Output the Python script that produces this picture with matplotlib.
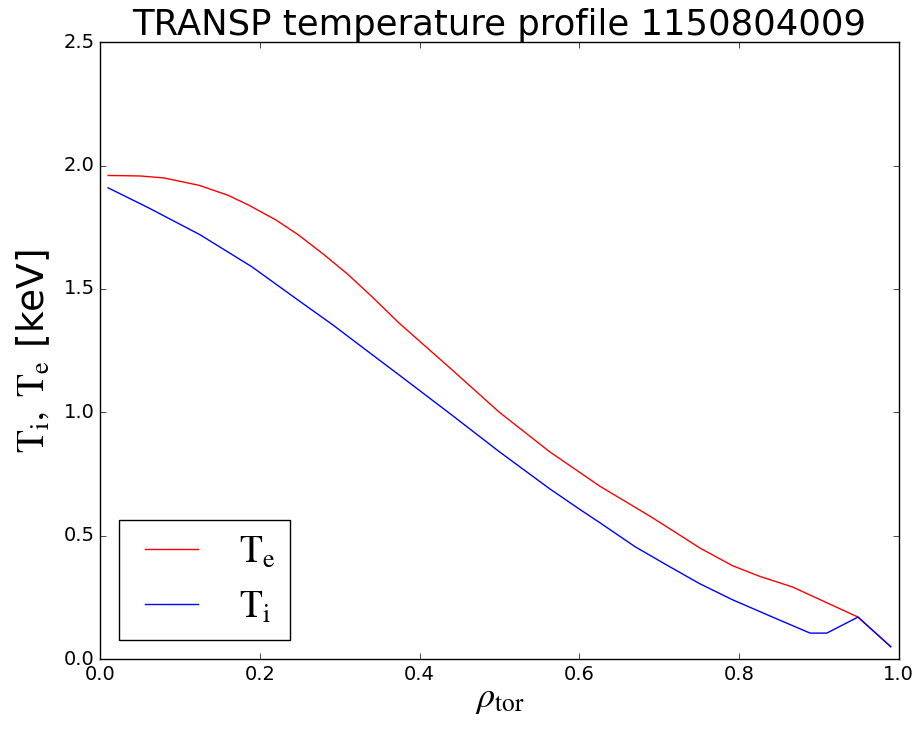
import matplotlib
matplotlib.use('Agg')
import matplotlib.pyplot as plt

# profiles
rho_e = [0.01, 0.05, 0.08, 0.124, 0.16, 0.186, 0.22, 0.248, 0.28, 0.31, 0.34, 0.375, 0.438,
         0.5, 0.563, 0.626, 0.688, 0.71, 0.751, 0.792, 0.826, 0.867, 0.949, 0.99]
te = [1.96, 1.958, 1.95, 1.92, 1.88, 1.84, 1.78, 1.72, 1.64, 1.56, 1.47, 1.36, 1.18,
      1.0, 0.84, 0.70, 0.58, 0.535, 0.45, 0.378, 0.335, 0.292, 0.17, 0.05]

rho_i = [0.01, 0.06, 0.125, 0.19, 0.25, 0.292, 0.334, 0.375, 0.438, 0.5, 0.563, 0.6, 0.626,
         0.67, 0.71, 0.751, 0.792, 0.842, 0.889, 0.91, 0.949, 0.99]
ti = [1.91, 1.83, 1.72, 1.59, 1.45, 1.353, 1.25, 1.15, 0.995, 0.84, 0.69, 0.608, 0.552,
      0.455, 0.38, 0.305, 0.24, 0.17, 0.105, 0.105, 0.17, 0.05]

plt.style.use('classic')
plt.rcParams['mathtext.fontset'] = 'stix'

fig = plt.figure(figsize=(9.18, 7.36), dpi=100, facecolor='white')
ax = fig.add_axes([0.109, 0.1046, 0.870, 0.838])
ax.plot(rho_e, te, 'r-', label=r'$\mathrm{T_e}$')
ax.plot(rho_i, ti, 'b-', label=r'$\mathrm{T_i}$')
ax.set_xlim(0, 1)
ax.set_ylim(0, 2.5)
ax.set_xticks([0.0, 0.2, 0.4, 0.6, 0.8, 1.0])
ax.set_yticks([0.0, 0.5, 1.0, 1.5, 2.0, 2.5])
ax.tick_params(labelsize=14)
ax.set_title('TRANSP temperature profile 1150804009', fontsize=25.5)
ax.set_xlabel(r'$\rho_\mathrm{tor}$', fontsize=26, labelpad=-1)
ax.set_ylabel(r'$\mathrm{T_i,\ T_e}$ [keV]', fontsize=27, labelpad=8)
ax.legend(loc='lower left', fontsize=27)

fig.savefig('out.png', dpi=100, facecolor='white')
